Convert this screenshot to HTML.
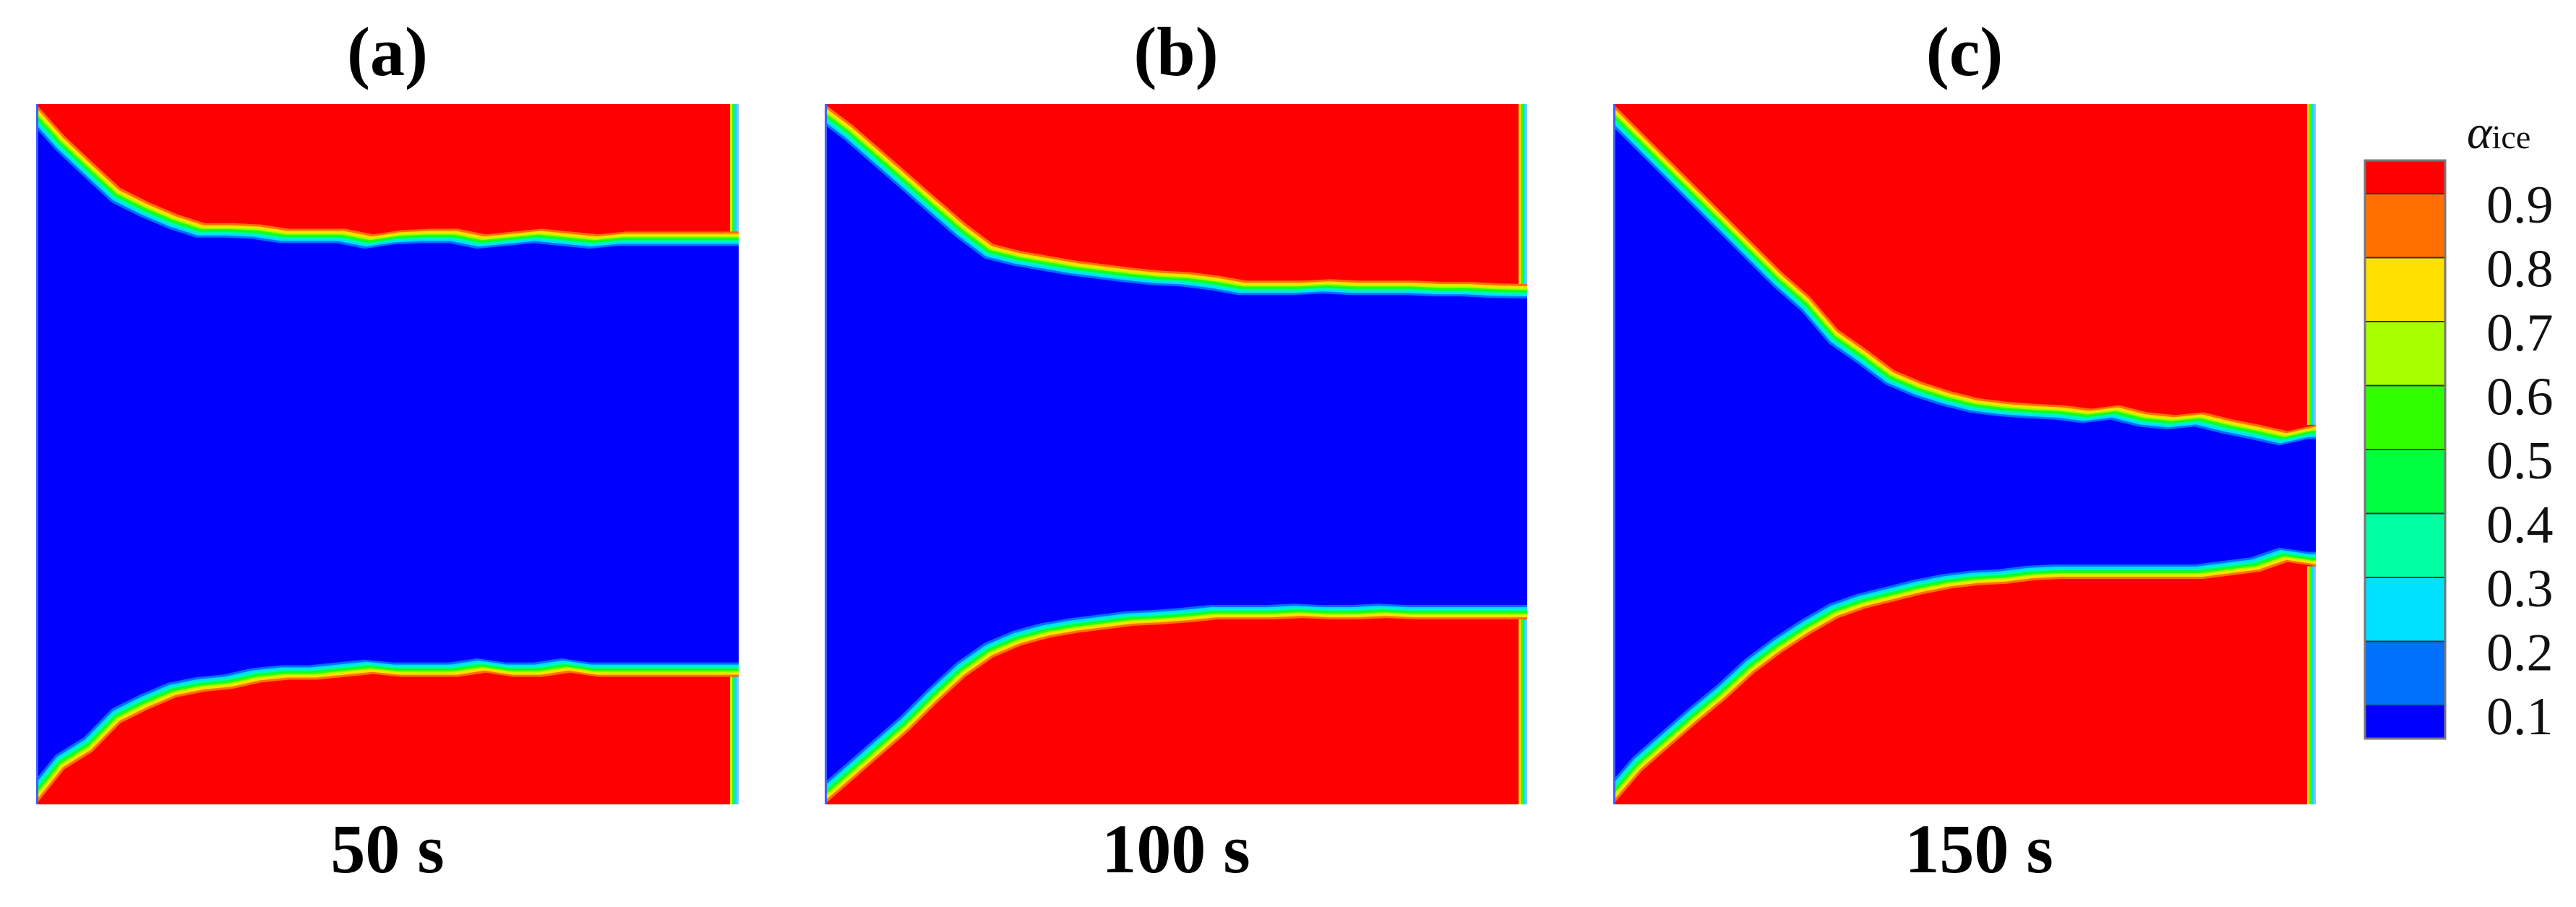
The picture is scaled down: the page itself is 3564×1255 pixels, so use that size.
<!DOCTYPE html>
<html><head><meta charset="utf-8">
<style>
html,body{margin:0;padding:0;background:#fff;}
svg{display:block;}
text{font-family:"Liberation Serif",serif;}
</style></head>
<body>
<svg id="fig" width="3564" height="1255" viewBox="0 0 3564 1255" xmlns="http://www.w3.org/2000/svg">
</svg>
<script>
// ---- data ----
const stations = [0,0.04,0.08,0.12,0.16,0.20,0.24,0.28,0.32,0.36,0.40,0.44,0.48,0.52,0.56,0.60,0.64,0.68,0.72,0.76,0.80,0.84,0.88,0.92,0.96,1.0];
const panelTitles = ["(a)","(b)","(c)"];
const timeLabels = ["50 s","100 s","150 s"];
const topA = [0,0.045,0.083,0.12,0.14,0.157,0.17,0.17,0.172,0.178,0.178,0.178,0.186,0.18,0.178,0.178,0.186,0.182,0.178,0.182,0.186,0.182,0.182,0.182,0.182,0.182];
const botA = [1,0.95,0.925,0.884,0.864,0.847,0.839,0.835,0.826,0.822,0.822,0.818,0.814,0.818,0.818,0.818,0.812,0.818,0.818,0.812,0.818,0.818,0.818,0.818,0.818,0.818];
const topB = [0,0.03,0.065,0.1,0.135,0.17,0.2,0.21,0.217,0.224,0.229,0.234,0.238,0.24,0.245,0.252,0.252,0.252,0.25,0.252,0.252,0.252,0.254,0.254,0.256,0.257];
const botB = [1,0.965,0.93,0.895,0.855,0.818,0.79,0.773,0.762,0.755,0.75,0.745,0.743,0.74,0.736,0.736,0.736,0.734,0.736,0.736,0.734,0.736,0.736,0.736,0.736,0.736];
const topC = [0,0.04,0.08,0.12,0.16,0.2,0.24,0.275,0.322,0.35,0.38,0.397,0.41,0.42,0.425,0.428,0.43,0.435,0.43,0.44,0.444,0.44,0.45,0.458,0.467,0.458];
const botC = [1,0.953,0.918,0.883,0.85,0.813,0.783,0.757,0.734,0.72,0.71,0.7,0.692,0.687,0.685,0.68,0.678,0.678,0.678,0.678,0.678,0.678,0.673,0.668,0.654,0.66];
const tops = [topA, topB, topC];
const bots = [botA, botB, botC];
const levelLabels = ["0.9","0.8","0.7","0.6","0.5","0.4","0.3","0.2","0.1"];
const levelColors = ["#ff0000","#ff7000","#ffe000","#a8ff00","#30ff00","#00ff40","#00ffa0","#00e0ff","#0070ff","#0000ff"];

// ---- layout ----
const NS="http://www.w3.org/2000/svg";
const svg=document.getElementById('fig');
const PW=972, PH=969, PT=144, PX0=50, PSTEP=1091;
function mk(tag,attrs,parent){const e=document.createElementNS(NS,tag);for(const k in attrs)e.setAttribute(k,attrs[k]);(parent||svg).appendChild(e);return e;}

const bands=[[20,"#0070ff"],[17,"#00e0ff"],[14,"#00ffa0"],[12,"#00ff40"],[10,"#30ff00"],[8,"#a8ff00"],[6,"#ffe000"],[3,"#ff7000"],[0,"#ff0000"]];

for(let p=0;p<3;p++){
  const x0=PX0+p*PSTEP;
  const sx=f=>x0+f*PW, sy=f=>PT+f*PH;
  const N=stations.length-1;
  const g=mk('g',{});
  
  
  const clip=mk('clipPath',{id:'clip'+p},g);
  mk('rect',{x:x0,y:PT,width:PW,height:PH},clip);
  const bg=mk('rect',{x:x0,y:PT,width:PW,height:PH,fill:'#0000ff'},g);
  
  
  const cg=mk('g',{'clip-path':'url(#clip'+p+')'},g);
  bands.forEach(([off,col])=>{
    let pts=[[sx(0)-30,PT-30]];
    stations.forEach((s,i)=>pts.push([sx(s)-off*0.6,sy(tops[p][i])+off]));
    pts.push([sx(1)+30,sy(tops[p][N])+off]);
    pts.push([sx(1)+30,PT-30]);
    const pl=mk('polygon',{points:pts.map(q=>q.join(',')).join(' '),fill:col},cg);
    
    
  });
  bands.forEach(([off,col])=>{
    let pts=[[sx(0)-30,PT+PH+30]];
    stations.forEach((s,i)=>pts.push([sx(s)-off*0.6,sy(bots[p][i])-off]));
    pts.push([sx(1)+30,sy(bots[p][N])-off]);
    pts.push([sx(1)+30,PT+PH+30]);
    const pl=mk('polygon',{points:pts.map(q=>q.join(',')).join(' '),fill:col},cg);
    
    
  });
  const stripCols=["#ffe000","#30ff00","#00e0ff","#80c0ff"];
  stripCols.forEach((c,i)=>{
    const yT=sy(tops[p][N]), yB=sy(bots[p][N]);
    mk('rect',{x:x0+PW-12+i*3,y:PT,width:3,height:yT-PT,fill:c},cg);
    mk('rect',{x:x0+PW-12+i*3,y:yB,width:3,height:PT+PH-yB,fill:c},cg);
  });
  mk('rect',{x:x0,y:PT,width:3,height:PH,fill:'#4060ff'},cg);
  const t=mk('text',{x:x0+PW/2,y:104,'font-size':96,'font-weight':'bold','text-anchor':'middle'},g);
  t.textContent=panelTitles[p];
  
  
  const tl=mk('text',{x:x0+PW/2+(p==2?20:0),y:1207,'font-size':96,'font-weight':'bold','text-anchor':'middle'},g);
  tl.textContent=timeLabels[p];
  
  
}

// ---- colorbar ----
const cb=mk('g',{});


const CBX=3272, CBW=111, CBT=222, CBB=1022, END=46;
const mid=(CBB-CBT-2*END)/8;
for(let i=0;i<10;i++){
  let y0,h;
  if(i==0){y0=CBT;h=END;} else if(i==9){y0=CBB-END;h=END;} else {y0=CBT+END+(i-1)*mid;h=mid;}
  const r=mk('rect',{x:CBX,y:y0,width:CBW,height:h,fill:levelColors[i],stroke:'#333','stroke-width':2},cb);
  
  
}
mk('rect',{x:CBX,y:CBT,width:CBW,height:CBB-CBT,fill:'none',stroke:'#777','stroke-width':3},cb);
levelLabels.forEach((l,i)=>{
  const t=mk('text',{x:3440,y:CBT+END+i*mid+40,'font-size':74,fill:'#111'},cb);
  t.textContent=l;
  
  
});
const ti=mk('text',{x:3413,y:205,fill:'#111'},cb);


const ta=mk('tspan',{'font-size':66,'font-style':'italic'},ti); ta.textContent='α';
const tb=mk('tspan',{'font-size':46},ti); tb.textContent='ice';
</script>
</body></html>
